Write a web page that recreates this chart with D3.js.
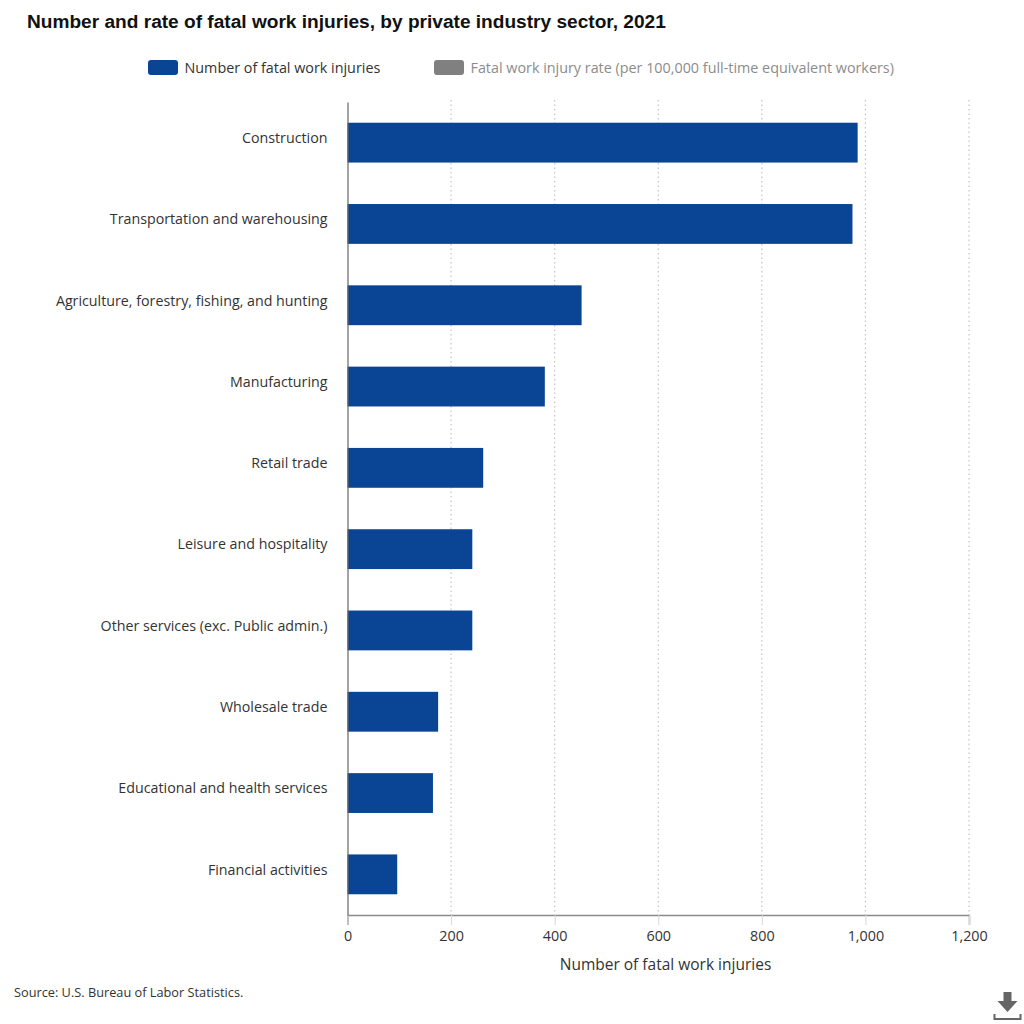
<!DOCTYPE html>
<html>
<head>
<meta charset="utf-8">
<script src="https://cdn.jsdelivr.net/npm/d3@7"></script>
<style>
  html, body { margin: 0; padding: 0; background: #fff; }
  svg { display: block; }
  text { font-family: "Open Sans", sans-serif; }
</style>
</head>
<body>
<div id="chart"></div>
<script>
// values
var sectors = ['Construction', 'Transportation and warehousing', 'Agriculture, forestry, fishing, and hunting',
  'Manufacturing', 'Retail trade', 'Leisure and hospitality', 'Other services (exc. Public admin.)',
  'Wholesale trade', 'Educational and health services', 'Financial activities'];
var injuries = [985, 975, 452, 381, 262, 241, 241, 175, 165, 96];
var xTicks = [0, 200, 400, 600, 800, 1000, 1200];
var legendLabels = ['Number of fatal work injuries', 'Fatal work injury rate (per 100,000 full-time equivalent workers)'];
var legendColors = ['#0a4595', '#808080'];
var legendTextColors = ['#333333', '#8c8c8c'];
var legendX = [148, 434];

var svg = d3.select('#chart').append('svg')
  .attr('width', 1024)
  .attr('height', 1024);

var x = d3.scaleLinear().domain([0, 1200]).range([347.5, 969]);
var y = d3.scaleBand().domain(sectors).range([102, 915]).paddingInner(0.51).paddingOuter(0.255);

// title
svg.append('text')
  .attr('x', 27).attr('y', 28)
  .style('font-family', '"Liberation Sans", Arial, sans-serif')
  .style('font-weight', 'bold')
  .style('font-size', '19.1px')
  .attr('fill', '#111')
  .text('Number and rate of fatal work injuries, by private industry sector, 2021');

// legend
var legend = svg.selectAll('.legend').data(legendLabels).enter().append('g').attr('class', 'legend');
legend.append('rect')
  .attr('x', function(d, i) { return legendX[i]; })
  .attr('y', 60).attr('width', 30).attr('height', 15).attr('rx', 3)
  .attr('fill', function(d, i) { return legendColors[i]; });
legend.append('text')
  .attr('x', function(d, i) { return legendX[i] + 36.5; })
  .attr('y', 73)
  .style('font-size', '14.35px')
  .attr('fill', function(d, i) { return legendTextColors[i]; })
  .text(function(d) { return d; });

// dotted grid
svg.selectAll('.grid').data(xTicks.slice(1)).enter().append('line')
  .attr('class', 'grid')
  .attr('x1', function(d) { return x(d); }).attr('x2', function(d) { return x(d); })
  .attr('y1', 100).attr('y2', 915)
  .attr('stroke', '#c4c4c4').attr('stroke-width', 1.2).attr('stroke-dasharray', '1.5,3');

// bars
svg.selectAll('.bar').data(injuries).enter().append('rect')
  .attr('class', 'bar')
  .attr('x', x(0))
  .attr('y', function(d, i) { return y(sectors[i]); })
  .attr('width', function(d) { return x(d) - x(0); })
  .attr('height', y.bandwidth())
  .attr('fill', '#0a4595');

// x axis
var xAxis = svg.append('g')
  .attr('transform', 'translate(0,915)')
  .call(d3.axisBottom(x).tickValues(xTicks).tickFormat(d3.format(',')).tickSize(10).tickPadding(6));
xAxis.select('.domain').attr('stroke', '#8a8a8a').attr('stroke-width', 1.5);
xAxis.selectAll('.tick line').attr('stroke', '#d8d8d8');
xAxis.selectAll('text').style('font-size', '14.35px').style('font-family', '"Open Sans", sans-serif').attr('fill', '#333');

// y axis
var yAxis = svg.append('g')
  .attr('transform', 'translate(347.5,0)')
  .call(d3.axisLeft(y).tickSize(0).tickPadding(20));
yAxis.select('.domain').attr('stroke', '#666').attr('stroke-width', 1.2);
yAxis.selectAll('text').style('font-size', '14.25px').style('font-family', '"Open Sans", sans-serif').attr('fill', '#333').attr('dy', '0.02em');

// x axis title
svg.append('text')
  .attr('x', 665.5).attr('y', 969.5)
  .attr('text-anchor', 'middle')
  .style('font-size', '15.5px')
  .attr('fill', '#333')
  .text('Number of fatal work injuries');

// source
svg.append('text')
  .attr('x', 14).attr('y', 996.5)
  .style('font-size', '12.75px')
  .attr('fill', '#333')
  .text('Source: U.S. Bureau of Labor Statistics.');

// download icon
var icon = svg.append('g').attr('transform', 'translate(1007.5,992)');
icon.append('path').attr('d', 'M-4,0H4V9H10L0,20L-10,9H-4Z').attr('fill', '#666');
icon.append('path').attr('d', 'M-13,22V27H13V22').attr('fill', 'none').attr('stroke', '#666').attr('stroke-width', 2);
</script>
</body>
</html>
